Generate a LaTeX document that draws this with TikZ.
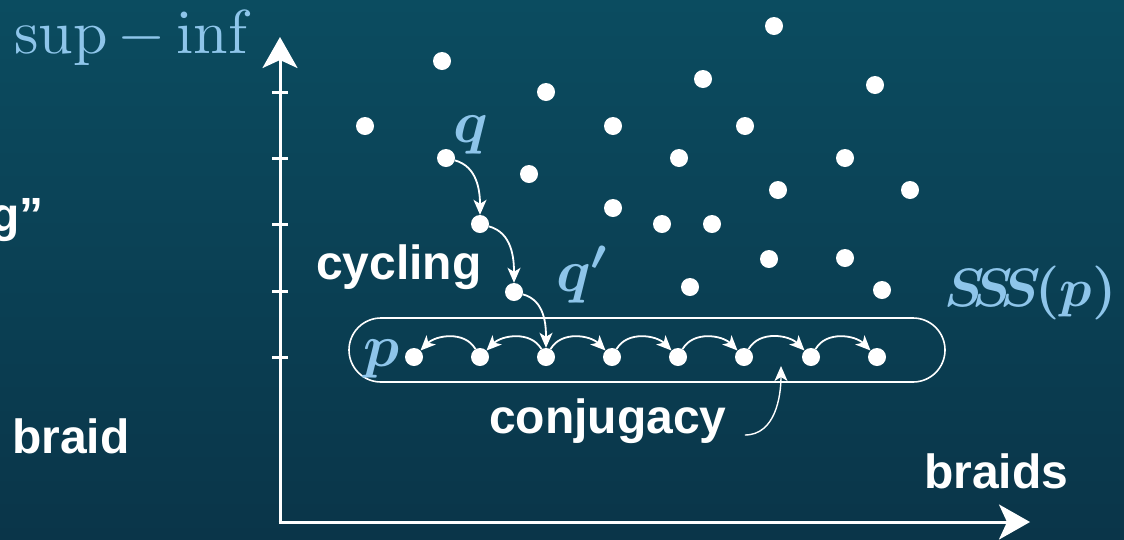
\documentclass[tikz,border=0pt]{standalone}
\usepackage[no-math]{fontspec}
\newfontfamily\labfont{Liberation Sans}
\usetikzlibrary{arrows.meta}
\definecolor{bgtop}{HTML}{0B4C60}
\definecolor{bgbot}{HTML}{0A3549}
\definecolor{mblue}{HTML}{8EC5EA}
\tikzset{
  dot/.style={circle,fill=white,inner sep=0pt,minimum size=18pt},
  lab/.style={text=white,font=\labfont\bfseries\fontsize{48}{52}\selectfont,inner sep=0pt},
  mlab/.style={text=mblue,font=\fontsize{10}{12}\selectfont,scale=6.2,inner sep=0pt},
  blab/.style={text=mblue,font=\fontsize{10}{12}\selectfont\boldmath,scale=6,inner sep=0pt},
  axis/.style={white,line width=3pt,-{Stealth[length=31pt,width=35pt,inset=8pt]}},
  tick/.style={white,line width=3pt},
  move/.style={white,line width=1.8pt,-{Stealth[length=15pt,width=13pt,inset=4pt]}},
}
\begin{document}
\begin{tikzpicture}[x=1pt,y=-1pt]
  \shade[top color=bgtop,bottom color=bgbot] (0,0) rectangle (1124,539);
  \useasboundingbox (0,0) rectangle (1124,539);
  \clip (0,0) rectangle (1124,539);

  % axes
  \coordinate (o) at (280,522);
  \coordinate (ytop) at (280,37);
  \coordinate (xend) at (1030,522);
  \draw[axis] ([yshift=1.5pt]o) -- (ytop);
  \draw[axis] ([xshift=-1.5pt]o) -- (xend);
  \foreach \y/\n in {92/1,158/2,224/3,291/4,357/5}{
    \coordinate (tl\n) at (272,\y);
    \coordinate (tr\n) at (288,\y);
    \draw[tick] (tl\n) -- (tr\n);
  }

  % scattered braids
  \foreach \x/\y [count=\i] in {774/26,442/61,546/92,703/79,875/85,365/126,613/126,745/126,
      679/158,845/158,529/174,778/190,910/190,613/208,662/224,712/224,769/259,845/258,
      690/287,882/290}
    \node[dot] (b\i) at (\x,\y) {};

  % cycling orbit
  \node[dot] (q)  at (446,158) {};
  \node[dot] (c1) at (480,224) {};
  \node[dot] (qq) at (514,292) {};

  % super summit set
  \node[draw=white,line width=1.6pt,rounded corners=32pt,minimum width=596pt,minimum height=64pt,inner sep=0pt] (sss) at (647,350) {};
  \foreach \x [count=\i] in {414,480,546,612,678,744,811,877}
    \node[dot] (s\i) at (\x,357) {};

  \draw[move] (q)  to[out=-15,in=90] (c1);
  \draw[move] (c1) to[out=-15,in=90] (qq);
  \draw[move] (qq) to[out=-15,in=90] (s3);

  \draw[move] (s2) to[out=120,in=45] (s1);
  \draw[move] (s3) to[out=120,in=45] (s2);
  \foreach \a/\b in {3/4,4/5,5/6,6/7,7/8}
    \draw[move] (s\a) to[out=60,in=135] (s\b);

  % labels
  \node[mlab,anchor=base west] (lsup) at (13,53) {$\sup-\inf$};
  \node[blab,anchor=base west] (lq) at (452,142) {$q$};
  \node[blab,anchor=base west] (lqq) at (555,291) {$q'$};
  \node[blab,anchor=base west] (lp) at (362,366) {$p$};
  \node[blab,scale=0.9,anchor=base west] (lsss) at (943,306)
    {$S\mkern-3.5mu S\mkern-3.5mu S\mkern-1.5mu(p)$};

  \node[lab,anchor=base west] (lcyc) at (316,279) {cycling};
  \node[lab,anchor=base west] (lconj) at (489,433) {conjugacy};
  \node[lab,anchor=base west] (lbraids) at (924,488) {braids};
  \node[lab,anchor=base west] (lbraid) at (12,453) {braid};
  \node[lab,anchor=base east] (lg) at (44,231) {g”};

  \coordinate (ctip) at (781,366);
  \draw[white,line width=1.4pt,-{Stealth[length=15pt,width=13pt,inset=4pt]}]
    ([xshift=18pt,yshift=-2pt]lconj.base east) to[out=0,in=-90] (ctip);
\end{tikzpicture}
\end{document}
